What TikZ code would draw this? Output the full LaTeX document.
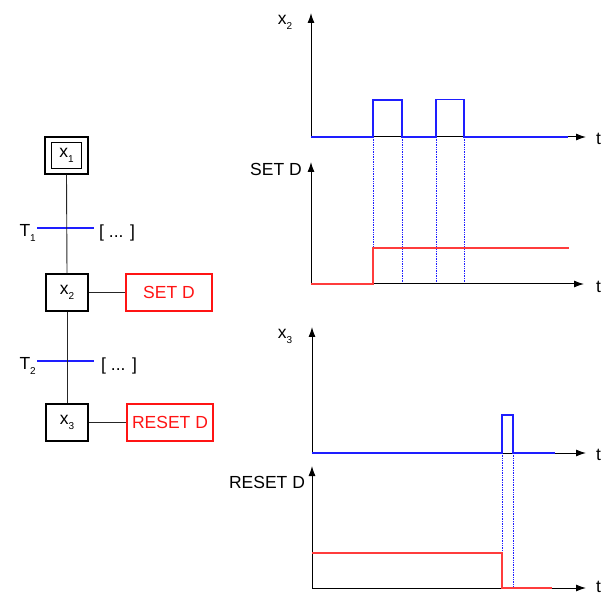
\documentclass[tikz,border=0pt]{standalone}
\usepackage{fontspec}
\setmainfont{Liberation Sans}
\usetikzlibrary{arrows.meta}
\newcommand\mysub[1]{\raisebox{-0.55ex}{\fontsize{10}{12}\selectfont #1}}
\definecolor{sigblue}{RGB}{30,30,255}
\definecolor{sigred}{RGB}{255,60,60}
\definecolor{txtred}{RGB}{255,20,20}
\begin{document}
\begin{tikzpicture}[x=1pt,y=-1pt,
  every node/.style={font=\fontsize{17.5}{20}\selectfont, inner sep=0pt},
  stepbox/.style={draw=black, line width=1.2pt, minimum width=42pt, minimum height=37pt},
  actbox/.style={draw=txtred, line width=1.2pt, minimum width=86pt, minimum height=37pt, text=txtred},
  link/.style={draw=black!85, line width=0.9pt},
  trans/.style={draw=sigblue, line width=1.2pt},
  axis/.style={draw=black, line width=1pt, -{Latex[length=10pt,width=7pt]}},
  bsig/.style={draw=sigblue, line width=1.8pt},
  rsig/.style={draw=sigred, line width=1.8pt},
  guide/.style={draw=sigblue, line width=0.7pt, densely dotted}
]
\useasboundingbox (0,0) rectangle (603,596);
% ---------- Grafcet ----------
\node[stepbox, minimum width=43pt, minimum height=37pt] (s1o) at (66.5,155.5) {};
\node[draw=black, line width=1.2pt, minimum width=30pt, minimum height=26pt] (s1) at (66.5,155.5) {x\mysub{1}};
\node[stepbox] (s2) at (67,292.5) {x\mysub{2}};
\node[stepbox] (s3) at (67,422.5) {x\mysub{3}};
\node[actbox] (a2) at (169,292.5) {SET D};
\node[actbox] (a3) at (170,422.5) {RESET D};
\coordinate (t1l) at (37,228); \coordinate (t1r) at (94,228);
\coordinate (t2l) at (37,361); \coordinate (t2r) at (94,361);
\draw[trans] (t1l) -- (t1r);
\draw[trans] (t2l) -- (t2r);
\draw[link] (s1o.south) -- (s2.north);
\draw[link] (s2.south) -- (s3.north);
\draw[link] (s2.east) -- (a2.west);
\draw[link] (s3.east) -- (a3.west);
\node[anchor=east] (t1) at (36,233) {T\mysub{1}};
\node[anchor=west] (c1) at (99,233) {[ ... ]};
\node[anchor=east] (t2) at (36,366) {T\mysub{2}};
\node[anchor=west] (c2) at (101,366) {[ ... ]};
% ---------- Chart x2 ----------
\draw[axis] (311,137) -- (311,13);
\draw[axis] (311,137) -- (586,137);
\node (lx2) at (285,22) {x\mysub{2}};
\node[anchor=west] (lt1) at (596,139) {t};
\draw[guide] (373,137) -- (373,284);
\draw[guide] (402,137) -- (402,284);
\draw[guide] (436,137) -- (436,284);
\draw[guide] (464,137) -- (464,284);
\draw[bsig] (311,137) -- (373,137) -- (373,100) -- (402,100) -- (402,137) -- (436,137) -- (436,99.5) -- (464,99.5) -- (464,137) -- (568,137);
% ---------- Chart SET D ----------
\draw[axis] (311,284) -- (311,162);
\draw[axis] (311,284) -- (584,284);
\node (lsd) at (276,169) {SET D};
\node[anchor=west] (lt2) at (596,287) {t};
\draw[rsig] (311,284) -- (373,284) -- (373,248) -- (569,248);
% ---------- Chart x3 ----------
\draw[axis] (312,453) -- (312,327);
\draw[axis] (312,453) -- (586,453);
\node (lx3) at (285,336) {x\mysub{3}};
\node[anchor=west] (lt3) at (596,455) {t};
\draw[guide] (502,453) -- (502,588);
\draw[guide] (513,453) -- (513,588);
\draw[bsig] (312,453) -- (502,453) -- (502,415) -- (513,415) -- (513,453) -- (555,453);
% ---------- Chart RESET D ----------
\draw[axis] (312,588) -- (312,466);
\draw[axis] (312,588) -- (586,588);
\node (lrd) at (267,482) {RESET D};
\node[anchor=base west] (lt4) at (596,592) {t};
\draw[rsig] (312,553) -- (502,553) -- (502,588) -- (552,588);
\end{tikzpicture}
\end{document}
